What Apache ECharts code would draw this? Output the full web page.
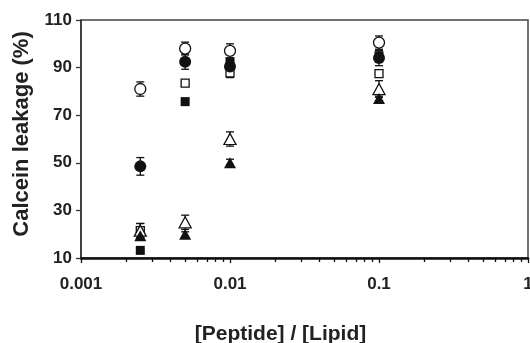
<!DOCTYPE html>
<html><head><meta charset="utf-8">
<script src="https://cdn.jsdelivr.net/npm/echarts@6/dist/echarts.min.js"></script>
<style>html,body{margin:0;padding:0;background:#fff}#c{width:530px;height:343px}</style>
</head><body><div id="c"></div>
<script>
var ratios = [0.0025, 0.005, 0.01, 0.1];
var xTickLabels = ['0.001', '0.01', '0.1', '1'];
var yTicks = [10, 30, 50, 70, 90, 110];

var openCircle = [81, 98, 97, 100.5];
var openCircleErr = [3, 2.7, 3, 2.8];
var filledCircle = [48.5, 92.5, 90.5, 94];
var filledCircleErr = [3.7, 3.2, 2, 3.2];
var openSquare = [21.5, 83.5, 87.8, 87.5];
var openSquareErr = [3, 1, 2, 1.5];
var filledSquare = [13.2, 75.7, 92.5, 95];
var filledSquareErr = [0.5, 0.5, 1, 1];
var openTriangle = [21.5, 25, 60, 81];
var openTriangleErr = [3, 3, 3, 3.5];
var filledTriangle = [19.3, 20, 50, 77];
var filledTriangleErr = [1, 1, 1.5, 1];

var FONT = '"Liberation Sans", Arial, sans-serif';
var TXT = '#222';

function pts(vals){ return ratios.map(function(x,i){ return [x, vals[i]]; }); }
function errData(vals, errs){ return ratios.map(function(x,i){ return [x, vals[i], errs[i]]; }); }

function errSeries(vals, errs){
  return {
    type: 'custom', z: 1, silent: true,
    data: errData(vals, errs),
    encode: {x: 0, y: 1},
    renderItem: function(params, api){
      var x = api.value(0), y = api.value(1), e = api.value(2);
      var lo = api.coord([x, y - e]), hi = api.coord([x, y + e]);
      var hw = 4;
      var st = {stroke: '#111', lineWidth: 1.3};
      return {type: 'group', children: [
        {type: 'line', shape: {x1: lo[0], y1: lo[1], x2: hi[0], y2: hi[1]}, style: st},
        {type: 'line', shape: {x1: lo[0]-hw, y1: lo[1], x2: lo[0]+hw, y2: lo[1]}, style: st},
        {type: 'line', shape: {x1: hi[0]-hw, y1: hi[1], x2: hi[0]+hw, y2: hi[1]}, style: st}
      ]};
    }
  };
}

function markSeries(vals, symbol, size, filled){
  return {
    type: 'scatter', z: 3, data: pts(vals), symbol: symbol, symbolSize: size,
    itemStyle: {color: filled ? '#111' : '#fff', borderColor: '#111', borderWidth: filled ? 0 : 1.3, opacity: 1},
    emphasis: {disabled: true}
  };
}

var chart = echarts.init(document.getElementById('c'), null, {renderer: 'canvas'});
chart.setOption({
  animation: false,
  grid: {left: 81, right: 2, top: 20, bottom: 85, outerBoundsMode: 'none', containLabel: false,
    show: true, borderColor: '#444', borderWidth: 1.5, backgroundColor: 'transparent'},
  xAxis: {
    type: 'log', logBase: 10, min: 0.001, max: 1,
    name: '[Peptide] / [Lipid]', nameLocation: 'middle', nameGap: 66,
    nameTextStyle: {fontFamily: FONT, fontWeight: 'bold', fontSize: 21, color: TXT, padding: [0, 48, 0, 0]},
    axisLine: {show: true, lineStyle: {color: '#111', width: 2.5}},
    axisTick: {show: true, inside: false, length: 5, lineStyle: {color: '#111', width: 1.3}},
    minorTick: {show: true, splitNumber: 9, length: 4, lineStyle: {color: '#111', width: 1.3}},
    splitLine: {show: false}, minorSplitLine: {show: false},
    axisLabel: {margin: 18, fontFamily: FONT, fontWeight: 'bold', fontSize: 17, color: TXT,
      formatter: function(v){ var i = Math.round(Math.log10(v)) + 3; return xTickLabels[i] || ''; }}
  },
  yAxis: {
    type: 'value', min: yTicks[0], max: yTicks[yTicks.length-1], interval: 20,
    name: 'Calcein leakage (%)', nameLocation: 'middle', nameGap: 48,
    nameTextStyle: {fontFamily: FONT, fontWeight: 'bold', fontSize: 22, color: TXT, padding: [0, 0, 0, 10]},
    axisLine: {show: true, lineStyle: {color: '#333', width: 1.5}},
    axisTick: {show: true, inside: false, length: 5, lineStyle: {color: '#333', width: 1.3}},
    splitLine: {show: false},
    axisLabel: {margin: 9, fontFamily: FONT, fontWeight: 'bold', fontSize: 17, color: TXT}
  },
  series: [
    errSeries(openCircle, openCircleErr),
    errSeries(filledCircle, filledCircleErr),
    errSeries(openSquare, openSquareErr),
    errSeries(filledSquare, filledSquareErr),
    errSeries(openTriangle, openTriangleErr),
    errSeries(filledTriangle, filledTriangleErr),
    markSeries(openCircle, 'circle', 11, false),
    markSeries(openSquare, 'rect', 8, false),
    markSeries(openTriangle, 'triangle', [12, 11], false),
    markSeries(filledSquare, 'rect', 9, true),
    markSeries(filledCircle, 'circle', 12, true),
    markSeries(filledTriangle, 'triangle', [12, 11], true)
  ]
});
</script></body></html>
